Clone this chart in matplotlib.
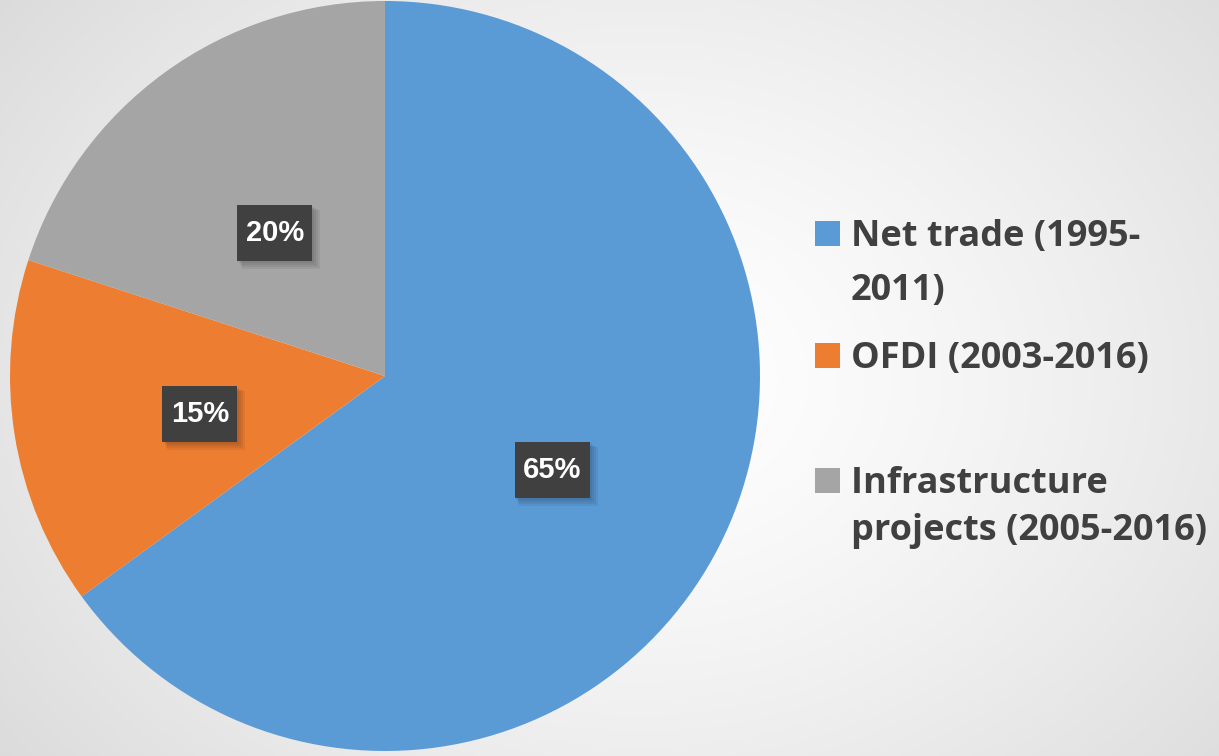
import numpy as np
import matplotlib
matplotlib.use("Agg")
import matplotlib.pyplot as plt
from matplotlib.patches import Rectangle

categories = ["Net trade (1995-\n2011)", "OFDI (2003-2016)", "Infrastructure \nprojects (2005-2016)"]
shares = [65, 15, 20]
colors = ["#5B9BD5", "#ED7D31", "#A5A5A5"]

W, H = 1219, 756
fig = plt.figure(figsize=(W / 100, H / 100), dpi=100)

# background radial gradient
bg = fig.add_axes([0, 0, 1, 1], zorder=0)
yy, xx = np.mgrid[0:H, 0:W]
d = np.sqrt(((xx - 640) / 900.0) ** 2 + ((yy - 378) / 700.0) ** 2)
d = np.clip(d / d.max(), 0, 1)
v = 1.0 - 0.14 * d ** 1.4
img = np.dstack([v, v, v])
bg.imshow(img, aspect="auto", extent=[0, 1, 0, 1], origin="upper")
bg.set_axis_off()

R_PX = 375.0
ax = fig.add_axes([10 / W, 5 / H, 2 * R_PX / W, 2 * R_PX / H], zorder=1)
wedges, texts, autotexts = ax.pie(
    shares, colors=colors, startangle=90, counterclock=False,
    autopct="%d%%", pctdistance=0.5,
    textprops=dict(color="white", fontsize=21, fontweight="bold",
                   family="Liberation Sans", zorder=5),
    wedgeprops=dict(linewidth=0),
)
px = 1.0 / R_PX  # data units per pixel
bw, bh = 75 * px, 56 * px
for t in autotexts:
    x, y = t.get_position()
    y -= 9 * px
    t.set_position((x, y))
    # soft shadow layers
    for k in range(4):
        o = (2 + 2 * k) * px
        ax.add_patch(Rectangle((x - bw / 2 + o * 0.6, y - bh / 2 - o), bw + o * 0.4, bh + o * 0.4,
                               fc="black", ec="none", alpha=0.06, zorder=3))
    ax.add_patch(Rectangle((x - bw / 2, y - bh / 2), bw, bh,
                           fc="#404040", ec="none", zorder=4))
    t.set_va("center")
    t.set_ha("center")
ax.set_xlim(-1, 1)
ax.set_ylim(-1, 1)
ax.set_aspect("equal")
ax.set_axis_off()

# legend drawn manually
first_baselines = [246, 368, 493]
line_gaps = [54, 54, 47]
for lab, col, yb, gap in zip(categories, colors, first_baselines, line_gaps):
    fig.patches.append(Rectangle((815 / W, 1 - yb / H), 25 / W, 25 / H,
                                 transform=fig.transFigure, fc=col, ec="none",
                                 zorder=3))
    for i, line in enumerate(lab.split("\n")):
        fig.text(851 / W, 1 - (yb + i * gap) / H, line, ha="left", va="baseline",
                 fontsize=26, fontweight="bold", family="Open Sans",
                 color="#404040", zorder=3)

fig.savefig("out.png", dpi=100)
